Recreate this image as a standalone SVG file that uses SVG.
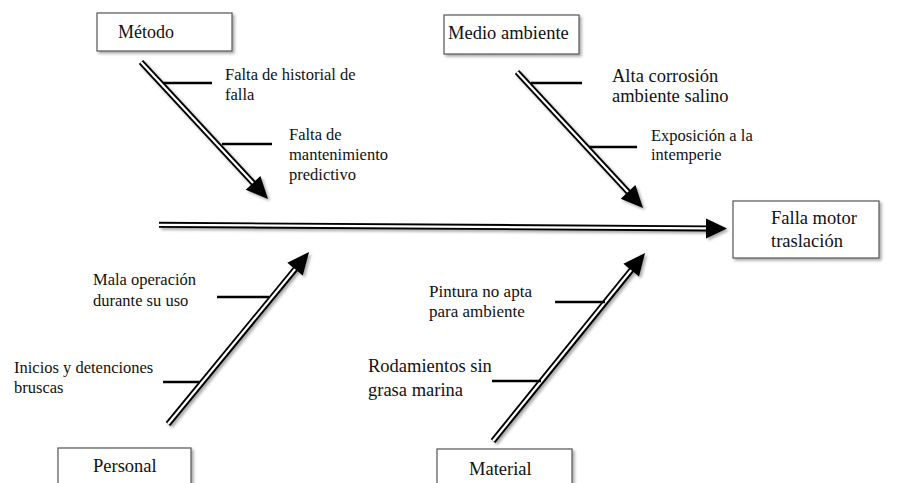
<svg xmlns="http://www.w3.org/2000/svg" width="922" height="483" viewBox="0 0 922 483">
<defs>
<filter id="sh" x="-10%" y="-10%" width="130%" height="130%">
<feGaussianBlur in="SourceAlpha" stdDeviation="1.6"/>
<feOffset dx="2" dy="2" result="b"/>
<feComponentTransfer><feFuncA type="linear" slope="0.35"/></feComponentTransfer>
<feMerge><feMergeNode/><feMergeNode in="SourceGraphic"/></feMerge>
</filter>
</defs>
<style>
text{font-family:"Liberation Serif","Times New Roman",serif;fill:#111}
.box{fill:#fff;stroke:#555;stroke-width:1.2}
.s{font-size:16.5px}
.b{font-size:18.5px}
.outer{stroke:#000;stroke-width:6;fill:none}
.inner{stroke:#fff;stroke-width:2.2;fill:none}
.head{fill:#000}
.br{stroke:#000;stroke-width:2.5}
</style>
<rect width="922" height="483" fill="#fff"/>

<g id="connectors">
  <g filter="url(#sh)">
    <!-- spine -->
    <line class="outer" x1="159" y1="224.8" x2="708" y2="228.4"/>
    <line class="inner" x1="159" y1="224.8" x2="707" y2="228.4"/>
    <polygon class="head" points="706,218.5 727,228.5 706,238.5"/>
    <!-- Metodo -->
    <line class="outer" x1="141" y1="62" x2="255" y2="185"/>
    <line class="inner" x1="141" y1="62" x2="254" y2="184"/>
    <polygon class="head" points="245.7,189.7 268,199 260.4,176.1"/>
    <!-- Medio ambiente -->
    <line class="outer" x1="517" y1="72" x2="630" y2="194"/>
    <line class="inner" x1="517" y1="72" x2="629" y2="193"/>
    <polygon class="head" points="620.7,198.7 643,208 635.4,185.1"/>
    <!-- Personal -->
    <line class="outer" x1="168" y1="424" x2="297" y2="267"/>
    <line class="inner" x1="168" y1="424" x2="296" y2="268"/>
    <polygon class="head" points="302.8,275.4 309,252 287.3,262.7"/>
    <!-- Material -->
    <line class="outer" x1="493" y1="441" x2="633" y2="268"/>
    <line class="inner" x1="493" y1="441" x2="632" y2="269"/>
    <polygon class="head" points="639,276.4 645,253 623.4,263.8"/>
  </g>
  <!-- branch lines -->
  <line class="br" x1="163" y1="83" x2="212" y2="83"/>
  <line class="br" x1="222" y1="144" x2="272" y2="144"/>
  <line class="br" x1="531" y1="83" x2="582" y2="83"/>
  <line class="br" x1="589" y1="147" x2="637" y2="147"/>
  <line class="br" x1="217" y1="297" x2="269" y2="297"/>
  <line class="br" x1="163" y1="382" x2="199.5" y2="382"/>
  <line class="br" x1="555" y1="302" x2="605" y2="302"/>
  <line class="br" x1="492" y1="381" x2="541" y2="381"/>
</g>

<g id="metodo">
  <rect class="box" x="97" y="13" width="135" height="38" filter="url(#sh)"/>
  <text class="b" x="118" y="38" style="font-size:18px">Método</text>
</g>
<g id="medio-ambiente">
  <rect class="box" x="444" y="15" width="135" height="39" filter="url(#sh)"/>
  <text class="b" x="448" y="39">Medio ambiente</text>
</g>
<g id="falla-motor">
  <rect class="box" x="733" y="201" width="146" height="57" filter="url(#sh)"/>
  <text class="b" x="771" y="224">Falla motor</text>
  <text class="b" x="771" y="247">traslación</text>
</g>
<g id="personal">
  <rect class="box" x="58" y="448" width="133" height="45" filter="url(#sh)"/>
  <text class="b" x="93" y="472">Personal</text>
</g>
<g id="material">
  <rect class="box" x="437" y="449" width="135" height="45" filter="url(#sh)"/>
  <text class="b" x="469" y="475">Material</text>
</g>

<g id="falta-historial">
  <text class="s" x="225" y="80">Falta de historial de</text>
  <text class="s" x="225" y="100">falla</text>
</g>
<g id="falta-mantenimiento">
  <text class="s" x="289" y="140">Falta de</text>
  <text class="s" x="289" y="160">mantenimiento</text>
  <text class="s" x="289" y="180">predictivo</text>
</g>
<g id="alta-corrosion">
  <text class="b" x="612" y="82">Alta corrosión</text>
  <text class="b" x="612" y="102">ambiente salino</text>
</g>
<g id="exposicion">
  <text class="s" x="651" y="141">Exposición a la</text>
  <text class="s" x="651" y="160">intemperie</text>
</g>
<g id="mala-operacion">
  <text class="s" x="93" y="285">Mala operación</text>
  <text class="s" x="93" y="306">durante su uso</text>
</g>
<g id="inicios">
  <text class="s" x="14" y="373">Inicios y detenciones</text>
  <text class="s" x="14" y="393">bruscas</text>
</g>
<g id="pintura">
  <text class="s" x="429" y="297" style="font-size:17px">Pintura no apta</text>
  <text class="s" x="429" y="317" style="font-size:17px">para ambiente</text>
</g>
<g id="rodamientos">
  <text class="b" x="368" y="372">Rodamientos sin</text>
  <text class="b" x="368" y="396">grasa marina</text>
</g>
</svg>
